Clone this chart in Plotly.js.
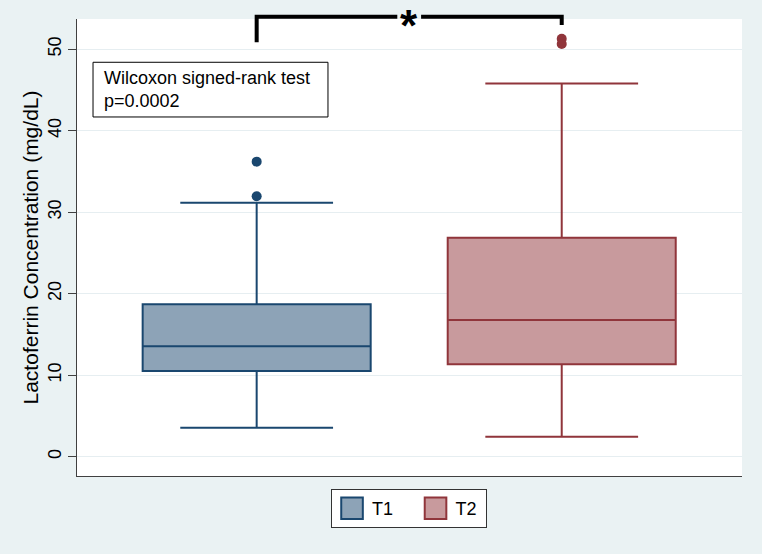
<!DOCTYPE html>
<html>
<head>
<meta charset="utf-8">
<script src="https://cdn.plot.ly/plotly-3.0.1.min.js"></script>
<style>
  html, body { margin: 0; padding: 0; background: #EAF2F3; }
  #chart { width: 762px; height: 554px; }
</style>
</head>
<body>
<div id="chart"></div>
<script>
// Lactoferrin concentration (mg/dL) at two time points
const groups = ['T1', 'T2'];
const q1 = [10.5, 11.33];
const median = [13.55, 16.77];
const q3 = [18.7, 26.87];
const lowerWhisker = [3.56, 2.45];
const upperWhisker = [31.17, 45.8];
const outliersT1 = [36.2, 31.95];
const outliersT2 = [51.28, 50.64];
const testLabel = ['Wilcoxon signed-rank test', 'p=0.0002'];
const yTicks = [0, 10, 20, 30, 40, 50];

const lineColors = ['#1A476F', '#90353B'];
const fillColors = ['rgb(141,163,183)', 'rgb(200,154,157)'];
const outliers = [outliersT1, outliersT2];
const FONT = 'Arial, "Liberation Sans", sans-serif';

const traces = [];
groups.forEach((g, i) => {
  traces.push({
    type: 'box',
    name: g,
    x: [g],
    q1: [q1[i]],
    median: [median[i]],
    q3: [q3[i]],
    lowerfence: [lowerWhisker[i]],
    upperfence: [upperWhisker[i]],
    width: 0.7475,
    whiskerwidth: 0.67,
    boxpoints: false,
    fillcolor: fillColors[i],
    line: { color: lineColors[i], width: 2 },
    hoverinfo: 'skip',
    showlegend: true
  });
});
groups.forEach((g, i) => {
  traces.push({
    type: 'scatter',
    mode: 'markers',
    x: outliers[i].map(() => g),
    y: outliers[i],
    marker: { color: lineColors[i], size: 10 },
    showlegend: false,
    hoverinfo: 'skip',
    cliponaxis: false
  });
});

// significance bracket between the two groups (paper y, above the plot area)
const yTop = 1.005, yLeft = 0.949, yRight = 0.987;
const gapHalf = 0.039;
const bracketPath =
  `M0,${yLeft} L0,${yTop} L${0.5 - gapHalf},${yTop} ` +
  `M${0.5 + gapHalf},${yTop} L1,${yTop} L1,${yRight}`;

const layout = {
  width: 762,
  height: 554,
  paper_bgcolor: '#EAF2F3',
  plot_bgcolor: '#FFFFFF',
  margin: { l: 77, r: 20, t: 19, b: 78 },
  font: { family: FONT, color: '#000000' },
  boxmode: 'overlay',
  showlegend: true,
  legend: {
    orientation: 'h',
    x: 0.382,
    xanchor: 'left',
    y: -0.0284,
    yanchor: 'top',
    bgcolor: '#FFFFFF',
    bordercolor: '#333333',
    borderwidth: 1,
    font: { size: 18, family: FONT, color: '#000000' },
    entrywidth: 38.5
  },
  xaxis: {
    type: 'category',
    range: [-0.589, 1.591],
    showticklabels: false,
    ticks: '',
    showgrid: false,
    zeroline: false,
    showline: true,
    linecolor: '#404040',
    linewidth: 1
  },
  yaxis: {
    range: [-2.37, 53.7],
    tickvals: yTicks,
    ticktext: yTicks.map(String),
    tickangle: -90,
    ticks: 'outside',
    ticklen: 8,
    tickwidth: 1,
    tickcolor: '#404040',
    tickfont: { size: 18, family: FONT, color: '#000000' },
    showgrid: true,
    gridcolor: '#E6EEF1',
    gridwidth: 1,
    zeroline: false,
    showline: true,
    linecolor: '#404040',
    linewidth: 1,
    title: {
      text: 'Lactoferrin Concentration (mg/dL)',
      font: { size: 21, family: FONT, color: '#000000' },
      standoff: 0
    }
  },
  shapes: [
    {
      type: 'path',
      xref: 'x',
      yref: 'paper',
      path: bracketPath,
      line: { color: '#000000', width: 4 }
    },
    {
      // frame of the test result box
      type: 'rect',
      xref: 'paper', yref: 'paper',
      x0: 0.0241, x1: 0.3774,
      y0: 0.7856, y1: 0.9053,
      fillcolor: '#FFFFFF',
      line: { color: '#000000', width: 1 },
      layer: 'above'
    }
  ],
  annotations: [
    {
      xref: 'paper', yref: 'paper',
      x: 0.0376, y: 0.8455,
      xanchor: 'left', yanchor: 'middle',
      text: testLabel.join('<br>'),
      align: 'left',
      showarrow: false,
      font: { size: 18, family: FONT, color: '#000000' }
    },
    {
      xref: 'x', yref: 'paper',
      x: 0.5, y: 1.005,
      xanchor: 'center', yanchor: 'middle',
      yshift: -9,
      text: '<b>*</b>',
      showarrow: false,
      font: { size: 44, family: FONT, color: '#000000' }
    }
  ]
};

Plotly.newPlot('chart', traces, layout, { displayModeBar: false, staticPlot: true }).then(() => {
  // enlarge the legend swatches and trim the frame to its entries
  document.querySelectorAll('#chart .legend path.legendbox').forEach(p => {
    const t = p.getAttribute('transform') || '';
    p.setAttribute('transform', t + ' scale(1.8)');
    p.setAttribute('vector-effect', 'non-scaling-stroke');
  });
  const bg = document.querySelector('#chart .legend rect.bg');
  if (bg) bg.setAttribute('width', 155);
});
</script>
</body>
</html>
